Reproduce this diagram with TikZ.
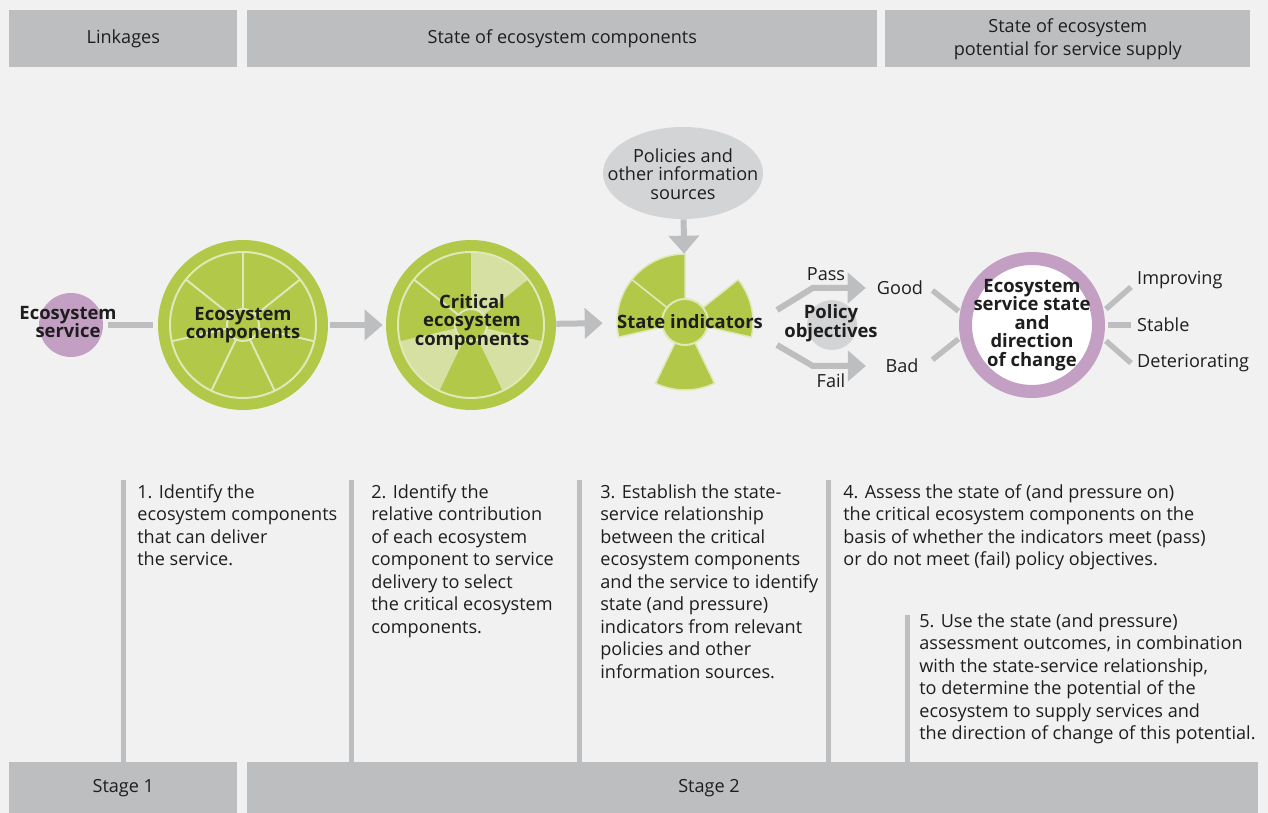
\documentclass[tikz,border=0pt]{standalone}
\usepackage{fontspec}
\setmainfont{Open Sans}
\usetikzlibrary{arrows.meta, positioning, shapes.geometric, calc}

\definecolor{bggrey}{HTML}{F1F1F1}
\definecolor{bargrey}{HTML}{BDBEC0}
\definecolor{ellgrey}{HTML}{D3D4D6}
\definecolor{leafgreen}{HTML}{B2C848}
\definecolor{palegreen}{HTML}{D6E0A2}
\definecolor{spokegreen}{HTML}{E0E8B8}
\definecolor{mauve}{HTML}{C3A0C3}
\definecolor{ink}{HTML}{1E1E1E}

\begin{document}
\begin{tikzpicture}[
  x=0.02cm, y=0.02cm,
  font=\fontsize{10.3}{12.8}\selectfont,
  text=ink,
  bar/.style={fill=bargrey, anchor=north west, inner sep=0, align=center},
  steptext/.style={anchor=north west, align=left, inner sep=0},
  bold/.style={font=\fontsize{10.5}{10.6}\selectfont\bfseries, align=center, inner sep=0},
  wheel/.style={circle, fill=leafgreen, minimum size=3.4cm, inner sep=0},
  vline/.style={draw=bargrey, line width=0.1cm},
  link/.style={draw=bargrey, line width=0.11cm},
  barr/.style={draw=bargrey, line width=0.12cm, -{Triangle[width=0.6cm, length=0.36cm]}},
  spoke/.style={draw=spokegreen, line width=0.04cm}
]
\fill[bggrey] (0,0) rectangle (1268,-813);
\useasboundingbox (0,0) rectangle (1268,-813);

% header and footer bars
\node[bar, minimum width=4.56cm, minimum height=1.14cm] (linkbar) at (9,-10) {Linkages};
\node[bar, minimum width=12.6cm, minimum height=1.14cm] (statebar) at (247,-10) {State of ecosystem components};
\node[bar, minimum width=7.3cm, minimum height=1.14cm, font=\fontsize{10.3}{13}\selectfont] (potbar) at (885,-10) {State of ecosystem\\potential for service supply};
\node[bar, minimum width=4.56cm, minimum height=1.02cm] (stage1) at (9,-762) {Stage 1};
\node[bar, minimum width=20.22cm, minimum height=1.02cm] (stage2) at (247,-762) {};
\node (stage2lbl) at (709,-788) {Stage 2};

% step dividers
\draw[vline] (123,-480) -- (123,-762);
\draw[vline] (351,-480) -- (351,-762);
\draw[vline] (579,-480) -- (579,-762);
\draw[vline] (828,-480) -- (828,-762);
\draw[vline] (907,-615) -- (907,-762);

% step texts
\node[steptext] (st1) at (137,-484) {1. Identify the\\ecosystem components\\that can deliver\\the service.};
\node[steptext] (st2) at (371,-484) {2. Identify the\\relative contribution\\of each ecosystem\\component to service\\delivery to select\\the critical ecosystem\\components.};
\node[steptext] (st3) at (600,-484) {3. Establish the state-\\service relationship\\between the critical\\ecosystem components\\and the service to identify\\state (and pressure)\\indicators from relevant\\policies and other\\information sources.};
\node[steptext] (st4) at (843,-484) {4. Assess the state of (and pressure on)\\the critical ecosystem components on the\\basis of whether the indicators meet (pass)\\or do not meet (fail) policy objectives.};
\node[steptext] (st5) at (919,-613) {5. Use the state (and pressure)\\assessment outcomes, in combination\\with the state-service relationship,\\to determine the potential of the\\ecosystem to supply services and\\the direction of change of this potential.};

% ecosystem service
\node[circle, fill=mauve, minimum size=1.28cm, inner sep=0] (svc) at (71,-325) {};
\node[bold] (svclbl) at (68,-322) {Ecosystem\\service};

% ecosystem components wheel
\node[wheel] (comp) at (243,-325) {};
\begin{scope}[shift={(comp.center)}]
  \draw[spoke] (0,0) circle (73);
  \draw[spoke] (0,0) circle (16);
  \foreach \k in {0,...,6}
    \draw[spoke] ({90+\k*360/7}:16) -- ({90+\k*360/7}:73);
\end{scope}
\node[bold] (complbl) at (243,-325) {Ecosystem\\components};

% critical components wheel
\node[wheel] (crit) at (471,-325) {};
\begin{scope}[shift={(crit.center)}]
  \foreach \k in {2,4,6}
    \fill[palegreen] (0,0) -- ({90+\k*360/7}:73) arc[start angle={90+\k*360/7}, delta angle={360/7}, radius=73] -- cycle;
  \draw[spoke] ({90+360/7}:16) -- ({90+360/7}:73);
  \draw[spoke] (0,0) circle (73);
  \draw[spoke, fill=leafgreen] (0,0) circle (16);
\end{scope}
\node[bold] (critlbl) at (472,-322) {Critical\\ecosystem\\components};

% state indicators
\node[circle, minimum size=2.72cm, inner sep=0] (si) at (685,-322) {};
\begin{scope}[shift={(si.center)}]
  \foreach \k in {0,1,3,5}
    \filldraw[fill=leafgreen, draw=spokegreen, line width=0.03cm] (0,0) -- ({90+\k*360/7}:68) arc[start angle={90+\k*360/7}, delta angle={360/7}, radius=68] -- cycle;
  \draw[fill=leafgreen, draw=spokegreen, line width=0.04cm] (0,0) circle (23);
\end{scope}
\node[bold] (silbl) at (690,-322) {State indicators};

\node[ellipse, fill=ellgrey, minimum width=3.2cm, minimum height=1.84cm, inner sep=0] (pol) at (683,-173) {};
\node[align=center, inner sep=0, font=\fontsize{10.3}{10.6}\selectfont] (pollbl) at (683,-174) {Policies and\\other information\\sources};

% policy objectives
\node[circle, fill=ellgrey, minimum size=1.0cm, inner sep=0] (pobj) at (832,-325) {};
\node[bold] (pobjlbl) at (831,-323) {Policy\\objectives};
\coordinate (passfrom) at (777,-310);
\coordinate (failfrom) at (777,-345);
\node (passlbl) at (826,-274) {Pass};
\node (faillbl) at (831,-381) {Fail};
\node (good) at (900,-288) {Good};
\node (bad) at (902,-366) {Bad};

% outcome ring
\node[circle, draw=mauve, line width=0.26cm, fill=white, minimum size=2.66cm, inner sep=0] (ring) at (1032,-325) {};
\node[bold] (ringlbl) at (1032,-325) {Ecosystem\\service state\\and\\direction\\of change};
\node[anchor=west] (imp) at (1131,-280) {Improving};
\node[anchor=west] (stb) at (1131,-325) {Stable};
\node[anchor=west] (det) at (1131,-363) {Deteriorating};

% connectors
\draw[link, shorten <=0.1cm, shorten >=0.1cm] (svc) -- (comp);
\draw[barr, shorten <=0.04cm, shorten >=0.06cm] (comp) -- (crit);
\draw[barr, shorten >=0.28cm] (crit) -- (si);
\draw[barr] (pol) -- (si);
\draw[barr, shorten >=0.1cm] (passfrom) -- ([xshift=-1.16cm]good.west) -- (good.west);
\draw[barr, shorten >=0.27cm] (failfrom) -- ([xshift=-1.33cm]bad.west) -- (bad.west);
\draw[link, shorten <=0.04cm, shorten >=0.08cm] (ring.170) -- (good.east);
\draw[link, shorten <=0.04cm, shorten >=0.2cm] (ring.190) -- (bad.east);
\draw[link, shorten <=0.06cm] (ring.11) -- ([yshift=-0.14cm]imp.west);
\draw[link, shorten <=0.06cm] (ring.east) -- (stb.west);
\draw[link, shorten <=0.06cm] (ring.-11) -- (det.west);
\end{tikzpicture}
\end{document}
